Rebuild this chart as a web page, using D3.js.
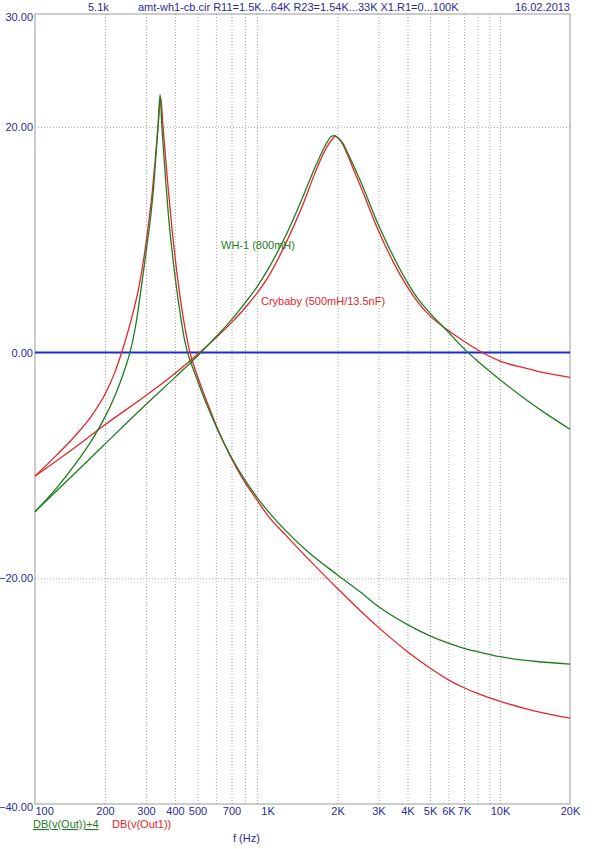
<!DOCTYPE html>
<html>
<head>
<meta charset="utf-8">
<script src="https://cdn.jsdelivr.net/npm/d3@7"></script>
<style>
  body { margin: 0; background: #fff; }
  text { font-family: "Liberation Sans", Arial, sans-serif; }
</style>
</head>
<body>
<svg width="600" height="849"></svg>
<script>
// frequency ticks on the log axis
var xTickValues = [100, 200, 300, 400, 500, 700, 1000, 2000, 3000, 4000, 5000, 6000, 7000, 10000, 20000];
var xTickLabels = ["100", "200", "300", "400", "500", "700", "1K", "2K", "3K", "4K", "5K", "6K", "7K", "10K", "20K"];
var xGridValues = [200, 300, 400, 500, 600, 700, 800, 900, 2000, 3000, 4000, 5000, 6000, 7000, 8000, 9000, 10000];
var yTickValues = [30, 20, 0, -20, -40];
var yGridValues = [20, -20];

// WH-1, low setting (sharp peak ~345 Hz)
var wh1LowF  = [100, 125, 150, 175, 200, 225, 245, 256, 270, 287.5, 300, 314.6, 325, 331, 338, 345, 351, 357, 365, 374, 390, 404, 420, 440, 453, 480, 500, 550, 600, 700, 800, 900, 1000, 1200, 1500, 2000, 2500, 3000, 4000, 5000, 6000, 7000, 8000, 10000, 14000, 20000];
var wh1LowDb = [-14.1, -11.9, -9.8, -7.8, -5.7, -3.4, -1.3, 0, 2.2, 6.0, 8.8, 12.1, 15.1, 17.4, 20.0, 22.85, 20.2, 17.9, 15.2, 12.4, 8.7, 6.1, 3.6, 1.1, 0, -1.5, -2.5, -4.7, -6.5, -9.3, -11.3, -12.8, -14.0, -15.8, -17.7, -19.7, -21.2, -22.5, -24.1, -25.1, -25.75, -26.2, -26.5, -26.95, -27.35, -27.6];

// WH-1, high setting (peak ~1.9 kHz)
var wh1HighF  = [100, 150, 200, 300, 400, 500, 600, 700, 800, 900, 1000, 1200, 1400, 1600, 1700, 1800, 1900, 1950, 2000, 2100, 2200, 2400, 2500, 3000, 3500, 4000, 4500, 5000, 6000, 7000, 8000, 10000, 13000, 16000, 20000];
var wh1HighDb = [-14.1, -10.6, -8.1, -4.6, -2.2, -0.3, 1.4, 2.9, 4.4, 5.8, 7.3, 10.4, 13.5, 16.4, 17.6, 18.6, 19.2, 19.22, 19.05, 18.6, 17.8, 16.1, 15.3, 11.3, 8.4, 6.2, 4.6, 3.5, 1.8, 0.35, -0.75, -2.4, -4.2, -5.5, -6.8];

// Crybaby, low setting
var cbLowF  = [100, 125, 150, 175, 200, 220, 236, 260, 281, 295, 310, 320, 330, 338, 347, 356, 365, 375, 390, 414, 438, 464, 500, 550, 600, 700, 800, 900, 1000, 1200, 1500, 2000, 2500, 3000, 4000, 5000, 6000, 7000, 8000, 10000, 14000, 20000];
var cbLowDb = [-10.95, -9.0, -7.3, -5.6, -3.7, -1.8, 0, 3.0, 6.0, 8.6, 11.9, 14.4, 17.4, 19.9, 22.65, 19.8, 17.1, 14.3, 10.6, 6.0, 2.6, 0, -2.1, -4.4, -6.4, -9.4, -11.5, -13.05, -14.4, -16.2, -18.3, -20.9, -22.85, -24.35, -26.5, -27.95, -29.0, -29.7, -30.2, -30.9, -31.75, -32.4];

// Crybaby, high setting
var cbHighF  = [100, 150, 200, 300, 400, 500, 600, 700, 800, 900, 1000, 1200, 1400, 1600, 1700, 1800, 1900, 1950, 2000, 2100, 2200, 2400, 2500, 3000, 3500, 4000, 4500, 5000, 6000, 7000, 8000, 10000, 13000, 16000, 20000];
var cbHighDb = [-10.95, -8.35, -6.4, -3.8, -1.85, -0.15, 1.3, 2.65, 3.95, 5.25, 6.6, 9.7, 12.8, 15.9, 17.2, 18.2, 18.9, 19.15, 19.05, 18.5, 17.6, 15.7, 14.85, 10.8, 7.9, 5.8, 4.3, 3.25, 1.95, 1.0, 0.25, -0.75, -1.4, -1.85, -2.2];

var svg = d3.select("svg"),
    plotLeft = 35, plotRight = 570, plotTop = 14, plotBottom = 804;

var labelColor = "#2b2b9c",
    green = "#1f7d1f",
    red = "#e3262b",
    gridColor = "#a8a8a8";

var x = d3.scaleLog().domain([100, 20000]).range([plotLeft, plotRight]);
var y = d3.scaleLinear().domain([-40, 30]).range([plotBottom, plotTop]);

// dotted grid
svg.append("g")
    .attr("transform", "translate(0," + plotBottom + ")")
    .call(d3.axisBottom(x).tickValues(xGridValues).tickSize(-(plotBottom - plotTop)).tickFormat(""))
    .call(function(g) { g.select(".domain").remove(); })
    .selectAll("line")
    .attr("stroke", gridColor)
    .attr("stroke-dasharray", "1,2");

svg.append("g")
    .attr("transform", "translate(" + plotLeft + ",0)")
    .call(d3.axisLeft(y).tickValues(yGridValues).tickSize(-(plotRight - plotLeft)).tickFormat(""))
    .call(function(g) { g.select(".domain").remove(); })
    .selectAll("line")
    .attr("stroke", gridColor)
    .attr("stroke-dasharray", "1,2");

// frame
svg.append("rect")
    .attr("x", plotLeft).attr("y", plotTop)
    .attr("width", plotRight - plotLeft).attr("height", plotBottom - plotTop)
    .attr("fill", "none")
    .attr("stroke", "#9a9a9a")
    .attr("stroke-width", 1);

// 0 dB line
svg.append("line")
    .attr("x1", plotLeft).attr("x2", plotRight)
    .attr("y1", y(0)).attr("y2", y(0))
    .attr("stroke", "#1f2bd0")
    .attr("stroke-width", 2);

// axes labels
var xAxis = svg.append("g")
    .attr("transform", "translate(0," + plotBottom + ")")
    .call(d3.axisBottom(x).tickValues(xTickValues).tickSize(0).tickPadding(3)
        .tickFormat(function(d, i) { return xTickLabels[i]; }));
xAxis.select(".domain").remove();
xAxis.selectAll("text")
    .attr("fill", labelColor)
    .style("font-size", "11px")
    .attr("text-anchor", function(d) { return d === 100 ? "start" : "middle"; });

var yAxis = svg.append("g")
    .attr("transform", "translate(" + plotLeft + ",0)")
    .call(d3.axisLeft(y).tickValues(yTickValues).tickSize(0).tickPadding(2)
        .tickFormat(d3.format(".2f")));
yAxis.select(".domain").remove();
yAxis.selectAll("text")
    .attr("fill", labelColor)
    .style("font-size", "11px")
    .attr("dy", function(d) { return d === 30 || d === -40 ? "0.6em" : "0.32em"; });

// curves
var line = d3.line()
    .x(function(d) { return x(d[0]); })
    .y(function(d) { return y(d[1]); })
    .curve(d3.curveMonotoneX);

function pairs(f, v) { return f.map(function(d, i) { return [d, v[i]]; }); }

var series = [
    { f: cbHighF, v: cbHighDb, c: red },
    { f: cbLowF, v: cbLowDb, c: red },
    { f: wh1HighF, v: wh1HighDb, c: green },
    { f: wh1LowF, v: wh1LowDb, c: green }
];

svg.append("g").selectAll("path")
    .data(series)
    .enter().append("path")
    .attr("d", function(d) { return line(pairs(d.f, d.v)); })
    .attr("fill", "none")
    .attr("stroke", function(d) { return d.c; })
    .attr("stroke-width", 1.3);

// curve labels
svg.append("text").attr("x", 221).attr("y", 249)
    .attr("fill", green).style("font-size", "11px").text("WH-1 (800mH)");
svg.append("text").attr("x", 261).attr("y", 305)
    .attr("fill", red).style("font-size", "11px").text("Crybaby (500mH/13.5nF)");

// header
svg.append("text").attr("x", 88).attr("y", 11)
    .attr("fill", labelColor).style("font-size", "11px").text("5.1k");
svg.append("text").attr("x", 138).attr("y", 11)
    .attr("fill", labelColor).style("font-size", "11px")
    .text("amt-wh1-cb.cir R11=1.5K...64K R23=1.54K...33K X1.R1=0...100K");
svg.append("text").attr("x", 570).attr("y", 11).attr("text-anchor", "end")
    .attr("fill", labelColor).style("font-size", "11px").text("16.02.2013");

// legend and axis title
svg.append("text").attr("x", 33).attr("y", 828)
    .attr("fill", green).style("font-size", "11px")
    .style("text-decoration", "underline").text("DB(v(Out))+4");
svg.append("text").attr("x", 112).attr("y", 828)
    .attr("fill", red).style("font-size", "11px").text("DB(v(Out1))");
svg.append("text").attr("x", 233).attr("y", 842)
    .attr("fill", labelColor).style("font-size", "11px").text("f (Hz)");
</script>
</body>
</html>
